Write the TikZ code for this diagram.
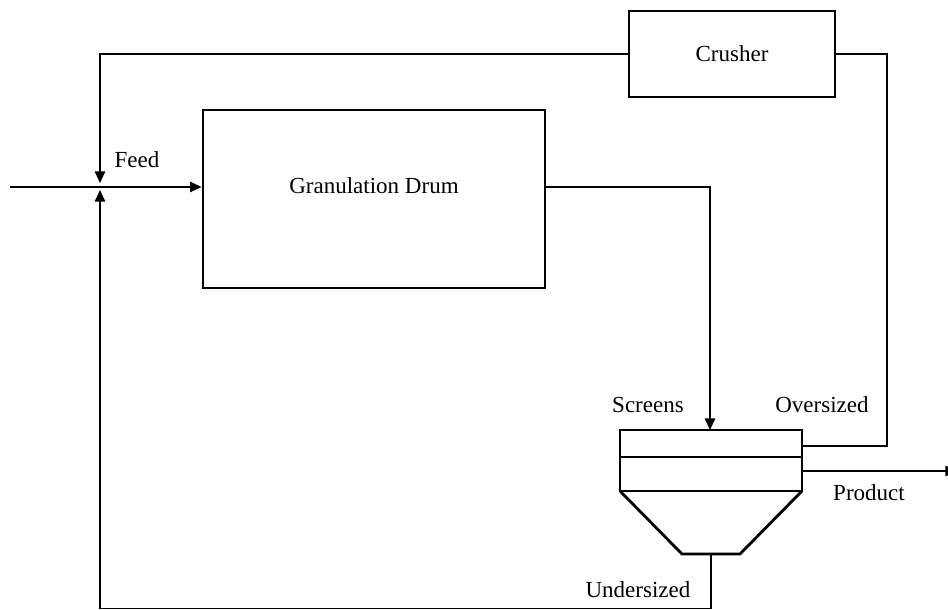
\documentclass[tikz,border=0pt]{standalone}
\usepackage{fontspec}
\setmainfont{Liberation Serif}
\usetikzlibrary{arrows.meta,calc}
\begin{document}
\begin{tikzpicture}[x=0.5pt,y=-0.5pt,
    box/.style={draw,line width=1.4pt,inner sep=0pt},
    flow/.style={line width=0.7pt},
    arr/.style={flow,-{Triangle[length=5.8pt,width=5.2pt]}},
    every node/.style={font=\fontsize{11.5}{13}\selectfont}]
        \useasboundingbox (0,0) rectangle (948,610);
        % units and boxes
        \node[box,minimum width=103pt,minimum height=43pt] (crusher) at (732,54) {Crusher};
        \node[box,minimum width=171pt,minimum height=89pt,
              label={[name=drumtext,yshift=6.5pt]center:Granulation Drum}] (drum) at (374,199) {};
        \draw[box] (620,430) rectangle (802,491) (620,457) -- (802,457);
        \draw[box] (620,491) -- (682,554) -- (740,554) -- (802,491);
        % points on the screens
        \coordinate (mix) at (100,187);
        \coordinate (feedin) at (10,187);
        \coordinate (scrin) at (710,430);
        \coordinate (scrover) at (802,446);
        \coordinate (scrprod) at (802,471);
        \coordinate (scrunder) at (711,554);
        \coordinate (overturn) at (887,54);
        \coordinate (prodout) at (957,471);
        \coordinate (bottom) at (100,608.5);
        % streams
        \draw[arr] (crusher.west) -| ($(mix)+(0,-4)$);
        \draw[arr] (feedin) -- (drum.west |- mix);
        \draw[arr] (drum.east |- mix) -| (scrin);
        \draw[flow] (scrover) -| (overturn) -- (crusher.east);
        \draw[arr] (scrprod) -- (prodout);
        \draw[arr] (scrunder) |- (bottom) -- ($(mix)+(0,3)$);
        % labels
        \node (feedlabel) at (137,160) {Feed};
        \node (screenslabel) at (648,405) {Screens};
        \node (overlabel) at (822,405) {Oversized};
        \node (prodlabel) at (869,493) {Product};
        \node (underlabel) at (638,590) {Undersized};
\end{tikzpicture}
\end{document}
